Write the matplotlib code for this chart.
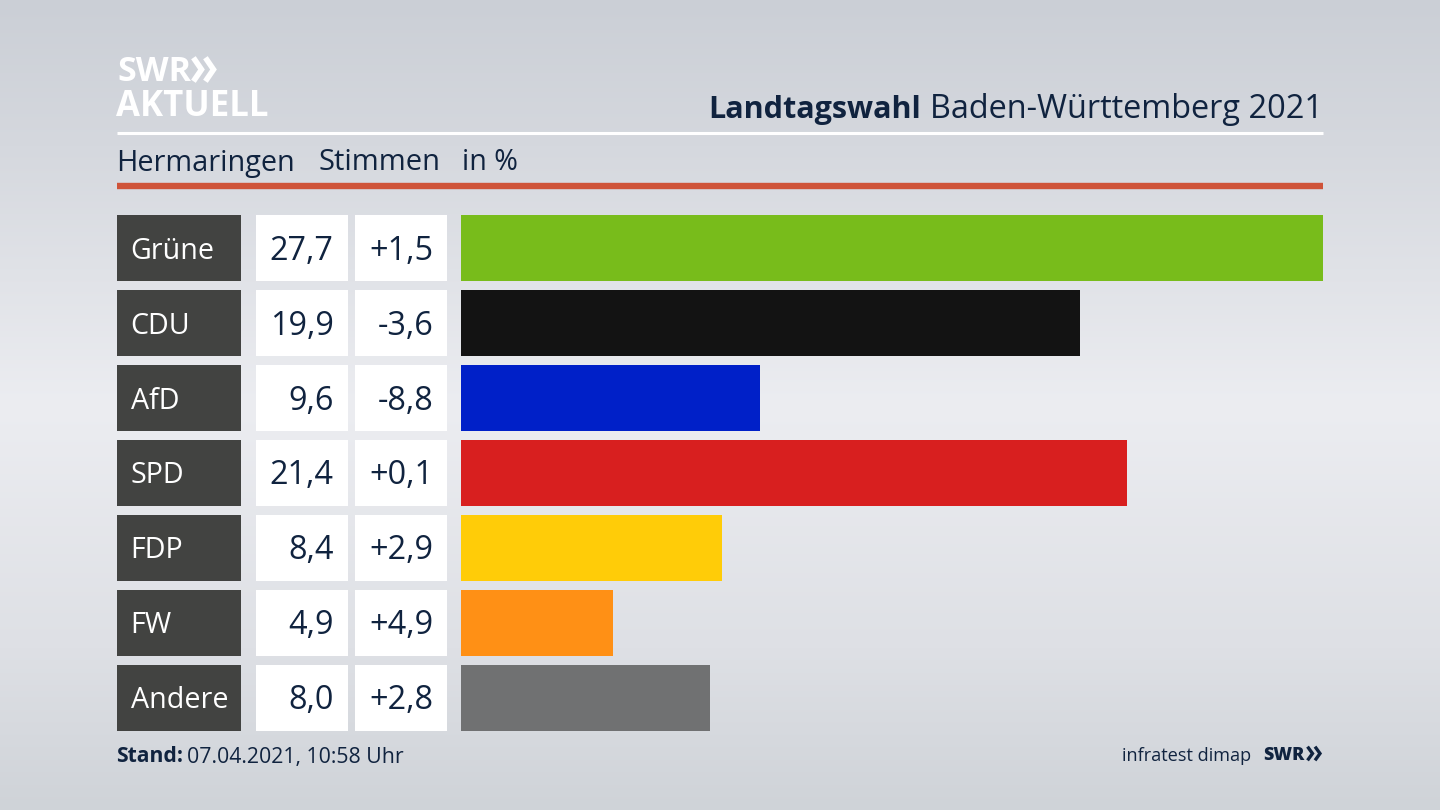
# -*- coding: utf-8 -*-
"""Landtagswahl Baden-Württemberg 2021, Hermaringen."""

import numpy as np
import matplotlib
matplotlib.use("Agg")
import matplotlib.pyplot as plt

parties = ["Grüne", "CDU", "AfD", "SPD", "FDP", "FW", "Andere"]
shares = [27.7, 19.9, 9.6, 21.4, 8.4, 4.9, 8.0]
share_labels = ["27,7", "19,9", "9,6", "21,4", "8,4", "4,9", "8,0"]
diff_labels = ["+1,5", "-3,6", "-8,8", "+0,1", "+2,9", "+4,9", "+2,8"]
bar_colors = ["#78bc1b", "#131313", "#0020c8", "#d81f1f", "#ffcc08", "#ff9015", "#707172"]

W, H = 1440, 810
NAVY = "#10233f"
plt.rcParams["font.family"] = ["Open Sans", "Noto Sans", "DejaVu Sans"]

fig = plt.figure(figsize=(W / 100, H / 100), dpi=100)


def px_axes(left, top, right, bottom, **kwargs):
    """Achsen über Pixelkoordinaten des Bildes anlegen."""
    ax = fig.add_axes([left / W, 1 - bottom / H, (right - left) / W, (bottom - top) / H], **kwargs)
    ax.axis("off")
    return ax


# Hintergrund: senkrechter Verlauf, Mitte am hellsten
bg = px_axes(0, 0, W, H)
grad_y = np.array([0, 0.18, 0.5, 0.8, 1.0])
grad_r = np.array([203, 213, 236, 222, 207])
grad_g = np.array([207, 216, 237, 224, 211])
grad_b = np.array([214, 222, 241, 229, 216])
yy = np.linspace(0, 1, H)
rgb = np.stack([np.interp(yy, grad_y, c) for c in (grad_r, grad_g, grad_b)], axis=1) / 255
bg.imshow(rgb[:, None, :], aspect="auto", extent=(0, W, H, 0))
bg.set_xlim(0, W)
bg.set_ylim(H, 0)

# Kopf
bg.text(117, 72, "SWR", color="white", fontsize=24.5, fontweight="bold", va="center", ha="left")
bg.text(116, 107, "AKTUELL", color="white", fontsize=25, fontweight="bold", va="center", ha="left")
for x0 in (195, 207):
    bg.plot([x0, x0 + 6.5, x0], [60, 69.5, 79], color="white", lw=4, solid_joinstyle="miter")

title = bg.text(1323, 110, "Baden-Württemberg 2021", color=NAVY, fontsize=23.4, va="center", ha="right")
bg.annotate("Landtagswahl", xy=(0, 0.5), xycoords=title, xytext=(-9, 0), textcoords="offset pixels",
            color=NAVY, fontsize=22, fontweight="bold", va="center", ha="right")

bg.plot([117, 1323], [133, 133], color="white", lw=2.2, solid_capstyle="butt")
bg.plot([117, 1323], [185.5, 185.5], color="#cf5339", lw=4.6, solid_capstyle="butt")
bg.text(116, 163, "Hermaringen", color=NAVY, fontsize=20.8, va="center", ha="left")
bg.text(318, 163, "Stimmen", color=NAVY, fontsize=21, va="center", ha="left")
bg.text(462, 163, "in %", color=NAVY, fontsize=20.6, va="center", ha="left")

# Fußzeile
stand = bg.text(116, 757, "Stand:", color=NAVY, fontsize=15.2, fontweight="bold", va="center", ha="left")
bg.annotate("07.04.2021, 10:58 Uhr", xy=(1, 0.5), xycoords=stand, xytext=(4, 0), textcoords="offset pixels",
            color=NAVY, fontsize=15.35, va="center", ha="left")
bg.text(1251, 756, "infratest dimap", color=NAVY, fontsize=13.1, va="center", ha="right")
bg.text(1263, 755.5, "SWR", color=NAVY, fontsize=13, fontweight="black", va="center", ha="left")
for x0 in (1308.5, 1316):
    bg.plot([x0, x0 + 4, x0], [748, 753.5, 759], color=NAVY, lw=2.4, solid_joinstyle="miter")

# Zeilen: Name, Stimmen, Differenz, Balken
y = np.arange(len(parties))
top, bottom = 215, 731
bar_h = 66.4 / 75


def row_axes(left, right):
    ax = px_axes(left, top, right, bottom)
    ax.set_ylim(len(parties) - 1 + bar_h / 2, -bar_h / 2)
    ax.set_xlim(0, 1)
    return ax


ax_name = row_axes(117, 241)
ax_name.barh(y, [1] * len(y), height=bar_h, color="#424341")
for yi, name in zip(y, parties):
    ax_name.text(0.11, yi + 0.04, name, color="white", fontsize=20.6, va="center", ha="left")

ax_share = row_axes(256, 348)
ax_share.barh(y, [1] * len(y), height=bar_h, color="white")
for yi, label in zip(y, share_labels):
    ax_share.text(0.845, yi + 0.04, label, color=NAVY, fontsize=23.3, va="center", ha="right")

ax_diff = row_axes(355, 447)
ax_diff.barh(y, [1] * len(y), height=bar_h, color="white")
for yi, label in zip(y, diff_labels):
    ax_diff.text(0.855, yi + 0.04, label, color=NAVY, fontsize=23.3, va="center", ha="right")

ax_bar = row_axes(461, 1323)
ax_bar.barh(y, shares, height=bar_h, color=bar_colors)
ax_bar.set_xlim(0, max(shares))

fig.savefig("out.png", dpi=100)
